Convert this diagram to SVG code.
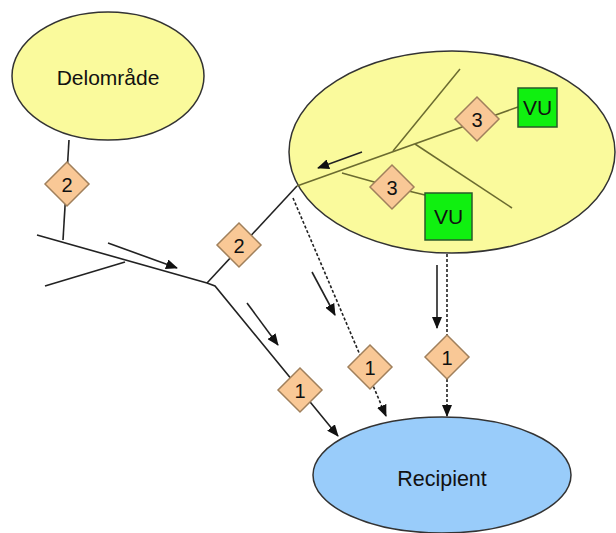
<svg xmlns="http://www.w3.org/2000/svg" width="616" height="533" viewBox="0 0 616 533">
<defs>
<marker id="ah" markerUnits="userSpaceOnUse" markerWidth="12" markerHeight="10" refX="11" refY="5" orient="auto">
<path d="M0,0 L12,5 L0,10 z" fill="#111"/>
</marker>
<style>
.t{font-family:"Liberation Sans",Arial,sans-serif;fill:#111;text-anchor:middle}
.dia{fill:#f9c896;stroke:#a0805c;stroke-width:1.5}
.vu{fill:#10f010;stroke:#2a5a2a;stroke-width:1.5}
.ln{stroke:#222;stroke-width:1.6;fill:none}
.ol{stroke:#6b6b30;stroke-width:1.5;fill:none}
.dash{stroke:#222;stroke-width:1.6;fill:none;stroke-dasharray:3,2}
.ar{stroke:#222;stroke-width:1.6;fill:none;marker-end:url(#ah)}
</style>
</defs>
<rect width="616" height="533" fill="#fff"/>
<g id="delomrade">
<ellipse cx="108" cy="76" rx="96" ry="64" fill="#fafa9c" stroke="#333" stroke-width="1.5"/>
<text class="t" x="108" y="85" font-size="21">Delområde</text>
</g>
<g id="omrade">
<ellipse cx="452" cy="152" rx="163" ry="101" fill="#fafa9c" stroke="#333" stroke-width="1.5"/>
</g>
<g id="recipient">
<ellipse cx="442" cy="475" rx="129" ry="58" fill="#99ccfa" stroke="#333" stroke-width="1.5"/>
<text class="t" x="442" y="486" font-size="21.5">Recipient</text>
</g>
<g id="connectors">
<path class="ln" d="M69,140 L63,240"/>
<path class="ln" d="M37,235 L207,283 L215,286 L338,436" marker-end="url(#ah)"/>
<path class="ln" d="M45,286 L125,262"/>
<path class="ln" d="M207,283 L297,186"/>
<path class="ol" d="M297,186 L518,107"/>
<path class="ol" d="M393,151 L460,69"/>
<path class="ol" d="M415,144 L512,208"/>
<path class="ol" d="M342,173 L392,187 L425,195"/>
<path class="dash" d="M293,198 L386,416" marker-end="url(#ah)"/>
<path class="dash" d="M447,254 L447,416" marker-end="url(#ah)"/>
<path class="ar" d="M108,243 L177,268"/>
<path class="ar" d="M247,303 L278,345"/>
<path class="ar" d="M312,272 L335,315"/>
<path class="ar" d="M437,265 L437,328"/>
<path class="ar" d="M362,152 L318,168"/>
</g>
<g id="d2a"><path class="dia" d="M67,162 L89,184 L67,206 L45,184 z"/><text class="t" x="67" y="191.5" font-size="20">2</text></g>
<g id="d2b"><path class="dia" d="M239,223 L261,245 L239,267 L217,245 z"/><text class="t" x="239" y="252.5" font-size="20">2</text></g>
<g id="d3a"><path class="dia" d="M477,97 L499,119 L477,141 L455,119 z"/><text class="t" x="477" y="126.5" font-size="20">3</text></g>
<g id="d3b"><path class="dia" d="M392,165 L414,187 L392,209 L370,187 z"/><text class="t" x="392" y="194.5" font-size="20">3</text></g>
<g id="d1a"><path class="dia" d="M300,368 L322,390 L300,412 L278,390 z"/><text class="t" x="300" y="397.5" font-size="20">1</text></g>
<g id="d1b"><path class="dia" d="M370,345 L392,367 L370,389 L348,367 z"/><text class="t" x="370" y="374.5" font-size="20">1</text></g>
<g id="d1c"><path class="dia" d="M447,335 L469,357 L447,379 L425,357 z"/><text class="t" x="447" y="364.5" font-size="20">1</text></g>
<g id="vu1"><rect class="vu" x="518" y="88" width="39" height="39"/><text class="t" x="537.5" y="115" font-size="21">VU</text></g>
<g id="vu2"><rect class="vu" x="425" y="193" width="47" height="47"/><text class="t" x="448.5" y="224" font-size="21">VU</text></g>
</svg>
